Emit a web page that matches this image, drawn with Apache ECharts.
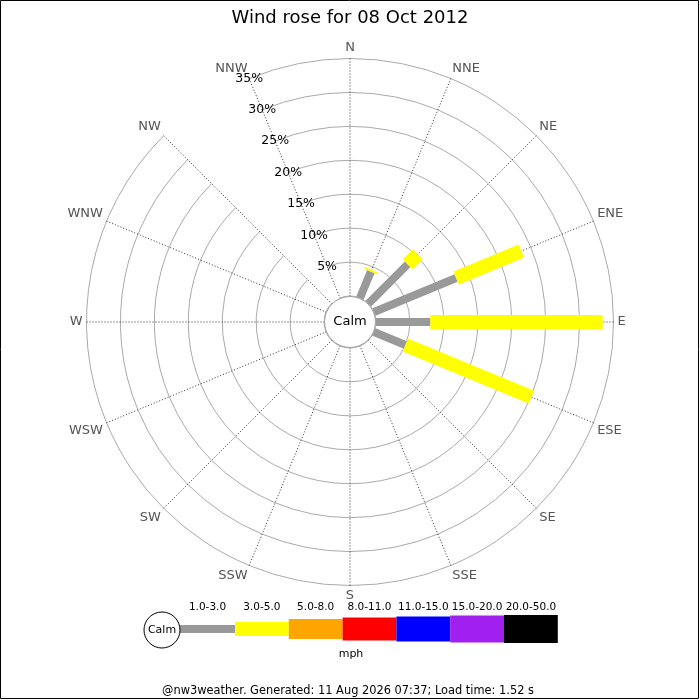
<!DOCTYPE html>
<html>
<head>
<meta charset="utf-8">
<script src="https://cdn.jsdelivr.net/npm/echarts@6/dist/echarts.min.js"></script>
<style>
html,body{margin:0;padding:0;background:#fff;}
#chart{width:700px;height:700px;}
</style>
</head>
<body>
<div id="chart"></div>
<script>
// ---- data ----
const directions = ['N','NNE','NE','ENE','E','ESE','SE','SSE','S','SSW','SW','WSW','W','WNW','NW','NNW'];
const speedBands = ['1.0-3.0','3.0-5.0','5.0-8.0','8.0-11.0','11.0-15.0','15.0-20.0','20.0-50.0'];
const bandColors = ['#999999','#ffff00','#ffa500','#ff0000','#0000ff','#a020f0','#000000'];
// percent of time per direction, by speed band (mph)
const pct_1_3 = [0, 4.2, 8.2, 13.1, 8.0, 5.0, 0, 0, 0, 0, 0, 0, 0, 0, 0, 0];
const pct_3_5 = [0, 0.3, 2.1, 10.4, 25.4, 20.1, 0, 0, 0, 0, 0, 0, 0, 0, 0, 0];
const radiusTicks = [5, 10, 15, 20, 25, 30, 35];
const titleText = 'Wind rose for 08 Oct 2012';
const unitText = 'mph';
const calmText = 'Calm';
const footerText = '@nw3weather. Generated: 11 Aug 2026 07:37; Load time: 1.52 s';

// ---- styles ----
const bandWidths = [8, 14, 20, 23, 25, 27, 28];
const FONT = 'DejaVu Sans';
const CX = 350, CY = 322;

// angle categories start at NNW so the radius axis labels run along the NNW spoke
const angleCats = [directions[15]].concat(directions.slice(0, 15));
const bandSeries = [pct_1_3, pct_3_5];

const roseData = [];
for (let d = 0; d < directions.length; d++) {
  let acc = 0;
  const ai = angleCats.indexOf(directions[d]);
  for (let b = 0; b < bandSeries.length; b++) {
    const v = bandSeries[b][d];
    if (v > 0) {
      roseData.push([acc, ai, acc + v, b]);
      acc += v;
    }
  }
}

// legend graphics
const legendEls = [];
const segStart = 180, segW = 53.8, legY = 629;
legendEls.push({type:'line', shape:{x1:179, y1:legY, x2:segStart + 55, y2:legY},
  style:{stroke:bandColors[0], lineWidth:bandWidths[0], lineCap:'butt'}});
for (let b = 1; b < speedBands.length; b++) {
  const x0 = segStart + 55 + (b - 1) * segW;
  legendEls.push({type:'rect', shape:{x:x0, y:legY - bandWidths[b] / 2, width:segW, height:bandWidths[b]},
    style:{fill:bandColors[b]}});
}
for (let b = 0; b < speedBands.length; b++) {
  const xc = b === 0 ? 207.5 : segStart + 55 + (b - 1) * segW + segW / 2;
  legendEls.push({type:'text', x:xc, y:607, style:{text:speedBands[b], fill:'#000', font:'10.5px ' + FONT, align:'center', verticalAlign:'middle'}});
}
legendEls.push({type:'circle', shape:{cx:162, cy:630, r:18}, style:{fill:'#fff', stroke:'#000', lineWidth:1}});
legendEls.push({type:'text', x:162, y:630, style:{text:calmText, fill:'#000', font:'11px ' + FONT, align:'center', verticalAlign:'middle'}});
legendEls.push({type:'text', x:351, y:654, style:{text:unitText, fill:'#000', font:'11px ' + FONT, align:'center', verticalAlign:'middle'}});

const chart = echarts.init(document.getElementById('chart'), null, {renderer:'canvas'});
chart.setOption({
  backgroundColor:'#fff',
  animation:false,
  title:{
    text:titleText, left:'center', top:4,
    textStyle:{fontFamily:FONT, fontSize:18, fontWeight:'normal', color:'#000'}
  },
  polar:{center:[CX, CY], radius:[26, 263.5]},
  angleAxis:{
    type:'category', data:angleCats, boundaryGap:false, startAngle:112.5, clockwise:true,
    axisLine:{show:false},
    axisTick:{show:false},
    axisLabel:{show:true, margin:4, color:'#555555', fontSize:13, fontFamily:FONT, interval:0},
    splitLine:{show:true, lineStyle:{color:'#333333', width:1, type:[1,2]}}
  },
  radiusAxis:{
    type:'value', min:0, max:35, interval:5,
    axisLine:{show:false}, axisTick:{show:false},
    axisLabel:{
      show:true, margin:0, align:'center', verticalAlign:'middle', showMinLabel:false,
      color:'#000', fontSize:12.5, fontFamily:FONT,
      formatter:function(v){ return radiusTicks.indexOf(v) >= 0 ? v + '%' : ''; }
    },
    splitLine:{show:true, lineStyle:{color:'#aaaaaa', width:1}}
  },
  series:[{
    type:'custom', coordinateSystem:'polar', data:roseData, z:5,
    renderItem:function(params, api){
      const r0 = api.value(0), a = api.value(1), r1 = api.value(2), b = api.value(3);
      const p0 = api.coord([r0, a]);
      const p1 = api.coord([r1, a]);
      return {type:'line', shape:{x1:p0[0], y1:p0[1], x2:p1[0], y2:p1[1]},
        style:{stroke:bandColors[b], lineWidth:bandWidths[b], lineCap:'butt', fill:null}};
    }
  }],
  graphic:[
    {type:'group', z:100, children:[
      {type:'circle', shape:{cx:CX, cy:CY, r:25.5}, style:{fill:'#fff', stroke:'#999', lineWidth:1}},
      {type:'text', x:CX, y:CY, style:{text:calmText, fill:'#000', font:'13px ' + FONT, align:'center', verticalAlign:'middle'}}
    ]},
    {type:'group', z:100, children:legendEls},
    {type:'text', z:100, x:348, y:691.5, style:{text:footerText, fill:'#000', font:'11.4px ' + FONT, align:'center', verticalAlign:'middle'}},
    {type:'rect', z:100, shape:{x:0.5, y:0.5, width:698, height:698}, style:{fill:null, stroke:'#000', lineWidth:1}}
  ]
});
</script>
</body>
</html>
